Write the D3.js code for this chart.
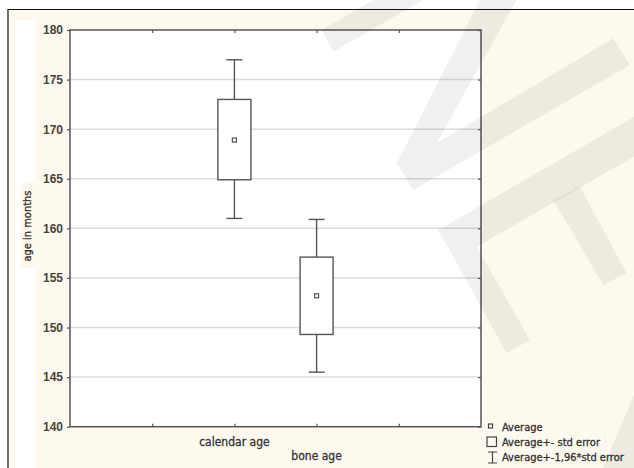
<!DOCTYPE html>
<html>
<head>
<meta charset="utf-8">
<script src="https://cdn.jsdelivr.net/npm/d3@7"></script>
<style>
body { margin: 0; background: #fff; }
svg { display: block; }
.tick text { font-family: "Liberation Sans", Arial, sans-serif; font-weight: bold; font-size: 12px; fill: #444; }
.lbl { font-family: "DejaVu Sans Condensed", "Liberation Sans", sans-serif; font-stretch: condensed; fill: #333; stroke: #333; stroke-width: 0.3px; }
</style>
</head>
<body>
<svg id="chart" width="634" height="468"></svg>
<script>
// values
var categories = ["calendar age", "bone age"];
var means = [168.9, 153.2];
var seLow = [164.9, 149.3];
var seHigh = [173.0, 157.1];
var ciLow = [161.0, 145.5];
var ciHigh = [177.0, 160.9];
var yTicks = [140, 145, 150, 155, 160, 165, 170, 175, 180];
var legendItems = ["Average", "Average+- std error", "Average+-1,96*std error"];

var svg = d3.select("#chart");
var pL = 70, pR = 481, pT = 30, pB = 426.7;

// background / frame
svg.append("rect").attr("x", 8).attr("y", 9.5).attr("width", 640).attr("height", 470).attr("fill", "#fdf9ef");
svg.append("rect").attr("x", 16).attr("y", 20).attr("width", 19.5).attr("height", 460).attr("fill", "#fff");
svg.append("rect").attr("x", 21).attr("y", 182).attr("width", 14.5).attr("height", 86).attr("fill", "#fdf9ef");
svg.append("path").attr("d", "M8,480V9.5H640").attr("fill", "none").attr("stroke", "#111").attr("stroke-width", 1.2);

var x = d3.scaleLinear().domain([-2, 3]).range([pL, pR]);
var y = d3.scaleLinear().domain([140, 180]).range([pB, pT]);

svg.append("rect").attr("x", pL).attr("y", pT).attr("width", pR - pL).attr("height", pB - pT).attr("fill", "#fff");

// grid
svg.append("g").selectAll("line").data(yTicks.slice(1, -1)).join("line")
    .attr("x1", pL).attr("x2", pR)
    .attr("y1", function(d) { return y(d); }).attr("y2", function(d) { return y(d); })
    .attr("stroke", "#dcdcdc").attr("stroke-width", 1.5);

// axes
var yAxis = svg.append("g").attr("transform", "translate(" + pL + ",0)")
    .call(d3.axisLeft(y).tickValues(yTicks).tickSize(3).tickPadding(4));
var yAxisR = svg.append("g").attr("transform", "translate(" + pR + ",0)")
    .call(d3.axisLeft(y).tickValues(yTicks).tickSize(3).tickFormat(""));
var xAxis = svg.append("g").attr("transform", "translate(0," + pB + ")")
    .call(d3.axisTop(x).tickValues([-1, 0, 1, 2]).tickSize(3).tickFormat(""));
var xAxisT = svg.append("g").attr("transform", "translate(0," + pT + ")")
    .call(d3.axisBottom(x).tickValues([-1, 0, 1, 2]).tickSize(3).tickFormat(""));
[yAxis, yAxisR, xAxis, xAxisT].forEach(function(g) {
    g.select(".domain").remove();
    g.selectAll(".tick line").attr("stroke", "#555").attr("stroke-width", 1.2);
});
svg.append("rect").attr("x", pL).attr("y", pT).attr("width", pR - pL).attr("height", pB - pT)
    .attr("fill", "none").attr("stroke", "#555").attr("stroke-width", 1.5);

// boxes
var g = svg.append("g").attr("stroke", "#555").attr("stroke-width", 1.4).attr("fill", "none");
categories.forEach(function(c, i) {
    var cx = x(i);
    g.append("line").attr("x1", cx).attr("x2", cx).attr("y1", y(ciHigh[i])).attr("y2", y(seHigh[i]));
    g.append("line").attr("x1", cx).attr("x2", cx).attr("y1", y(seLow[i])).attr("y2", y(ciLow[i]));
    g.append("line").attr("x1", cx - 8).attr("x2", cx + 8).attr("y1", y(ciHigh[i])).attr("y2", y(ciHigh[i]));
    g.append("line").attr("x1", cx - 8).attr("x2", cx + 8).attr("y1", y(ciLow[i])).attr("y2", y(ciLow[i]));
    g.append("rect").attr("x", cx - 16.5).attr("width", 33)
        .attr("y", y(seHigh[i])).attr("height", y(seLow[i]) - y(seHigh[i])).attr("fill", "#fff");
    g.append("rect").attr("x", cx - 2).attr("y", y(means[i]) - 2).attr("width", 4).attr("height", 4)
        .attr("stroke-width", 1.2);
});

// category labels
svg.selectAll("text.cat").data(categories).join("text")
    .attr("class", "lbl cat")
    .attr("x", function(d, i) { return x(i); })
    .attr("y", function(d, i) { return i === 0 ? 446 : 460; })
    .attr("text-anchor", "middle").attr("font-size", 12)
    .text(function(d) { return d; });

svg.append("text").attr("class", "lbl")
    .attr("transform", "translate(31,226) rotate(-90)")
    .attr("text-anchor", "middle").attr("font-size", 11)
    .text("age in months");

// legend
var lg = svg.append("g");
lg.append("rect").attr("x", 488.5).attr("y", 424).attr("width", 4).attr("height", 4)
    .attr("fill", "none").attr("stroke", "#444").attr("stroke-width", 1.2);
lg.append("rect").attr("x", 487).attr("y", 437).attr("width", 9.5).attr("height", 9.5)
    .attr("fill", "none").attr("stroke", "#444").attr("stroke-width", 1.2);
lg.append("path").attr("d", "M488,452H497M492.5,452V463M488,463H497")
    .attr("fill", "none").attr("stroke", "#444").attr("stroke-width", 1.2);
lg.selectAll("text").data(legendItems).join("text")
    .attr("class", "lbl")
    .attr("x", 502).attr("y", function(d, i) { return 430.5 + i * 15; })
    .attr("font-size", 11)
    .text(function(d) { return d; });

// faint watermark bands
var marks = [
    [[321.7, 30], [373.3, 0], [423.3, 0], [333.3, 51.7]],
    [[480, 0], [516.7, 0], [436.7, 143.3], [613.3, 38.3], [630, 65], [413.3, 190], [396.7, 163.3]],
    [[438.3, 230], [634, 116.7], [634, 156.7], [476.7, 246.7], [530, 340], [506.7, 353.3]],
    [[553.3, 200], [580, 186.7], [626.7, 273.3], [603.3, 285]],
    [[634, 395], [603, 468], [634, 468]]
];
svg.append("g").selectAll("path").data(marks).join("path")
    .attr("d", function(d) { return d3.line()(d) + "Z"; })
    .attr("fill", "#000").attr("opacity", 0.06);
</script>
</body>
</html>
